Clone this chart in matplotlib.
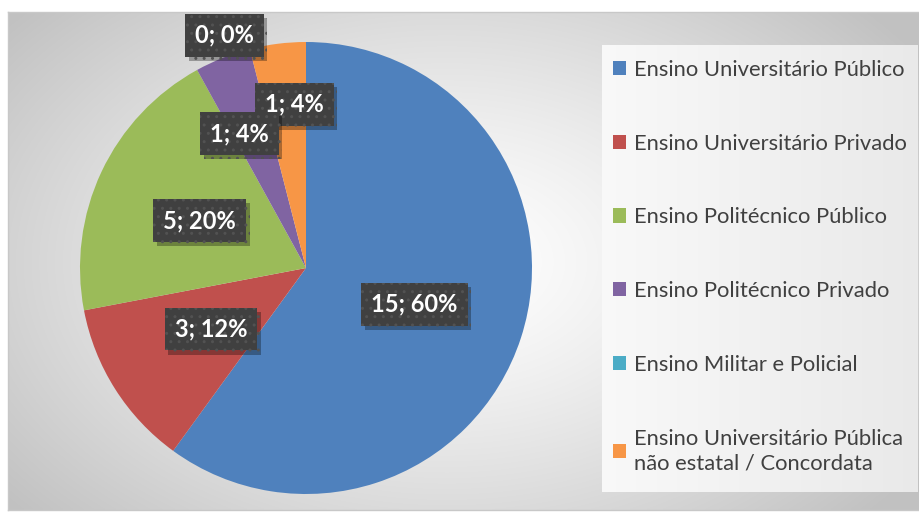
import numpy as np
import matplotlib
matplotlib.use("Agg")
import matplotlib.pyplot as plt
import matplotlib.patheffects as pe

categories = [
    "Ensino Universitário Público",
    "Ensino Universitário Privado",
    "Ensino Politécnico Público",
    "Ensino Politécnico Privado",
    "Ensino Militar e Policial",
    "Ensino Universitário Pública\nnão estatal / Concordata",
]
values = [15, 3, 5, 1, 0, 1]
colors = ["#4f81bd", "#c0504d", "#9bbb59", "#8064a2", "#4bacc6", "#f79646"]
# label anchor positions (in pie-radius units, relative to centre)
label_pos = [(0.48, -0.16), (-0.42, -0.27), (-0.47, 0.21),
             (-0.295, 0.595), (-0.36, 1.03), (-0.05, 0.725)]

W, H = 920, 515
fig = plt.figure(figsize=(W / 100, H / 100), dpi=100)
fig.patch.set_facecolor("white")

# background radial gradient of the chart area
bx0, by0, bx1, by1 = 8, 12, 920, 510
bg = fig.add_axes([bx0 / W, 1 - by1 / H, (bx1 - bx0) / W, (by1 - by0) / H])
ny, nx = 200, 360
yy, xx = np.mgrid[0:ny, 0:nx]
cx, cy = 0.48 * nx, 0.5 * ny
d = np.sqrt(((xx - cx) / (nx * 0.62)) ** 2 + ((yy - cy) / (ny * 0.75)) ** 2)
d = np.clip(d, 0, 1)
shade = 1.0 - 0.24 * d ** 1.3
img = np.dstack([shade, shade, shade])
bg.imshow(img, aspect="auto", extent=[0, 1, 0, 1], interpolation="bilinear")
bg.set_xlim(0, 1)
bg.set_ylim(0, 1)
bg.set_xticks([])
bg.set_yticks([])
for s in bg.spines.values():
    s.set_color("#c8c8c8")
    s.set_linewidth(1.0)

# legend panel
lx0, ly0, lx1, ly1 = 602, 45, 918, 492
panel = fig.add_axes([lx0 / W, 1 - ly1 / H, (lx1 - lx0) / W, (ly1 - ly0) / H])
gx = np.linspace(0, 1, 200)
pshade = 0.975 - 0.06 * gx
pimg = np.dstack([np.tile(pshade, (50, 1))] * 3)
panel.imshow(pimg, aspect="auto", extent=[0, 1, 0, 1])
panel.axis("off")

# pie
pcx, pcy, r = 306, 268, 226
ax = fig.add_axes([(pcx - r) / W, 1 - (pcy + r) / H, 2 * r / W, 2 * r / H])
ax.patch.set_alpha(0)
wedges, _ = ax.pie(values, colors=colors, startangle=90, counterclock=False,
                   radius=1.0, wedgeprops=dict(linewidth=0))
ax.set_xlim(-1, 1)
ax.set_ylim(-1, 1)
ax.set_aspect("equal")
ax.axis("off")

total = sum(values)
n = len(values)
for i, (v, (lx, ly)) in enumerate(zip(values, label_pos)):
    txt = f"{v}; {round(100 * v / total)}%"
    t = ax.text(lx, ly, txt, ha="center", va="center", fontsize=17,
                fontweight="bold", family="Lato", color="white",
                bbox=dict(boxstyle="square,pad=0.42", facecolor="#404040",
                          edgecolor="#525252", hatch="..", linewidth=0),
                zorder=6 + (n - i))
    t.get_bbox_patch().set_path_effects(
        [pe.SimplePatchShadow(offset=(2.5, -3), shadow_rgbFace="black",
                              alpha=0.3), pe.Normal()])

# legend
leg = fig.legend(wedges, categories, loc="upper left",
                 bbox_to_anchor=(593 / W, 1 - 40 / H), frameon=False,
                 prop=dict(family="Lato", size=15.8), labelcolor="#404040",
                 handlelength=0.62, handleheight=0.62, handletextpad=0.35,
                 labelspacing=2.45)
for t in leg.get_texts():
    t.set_linespacing(1.3)

fig.savefig("out.png", dpi=100)
